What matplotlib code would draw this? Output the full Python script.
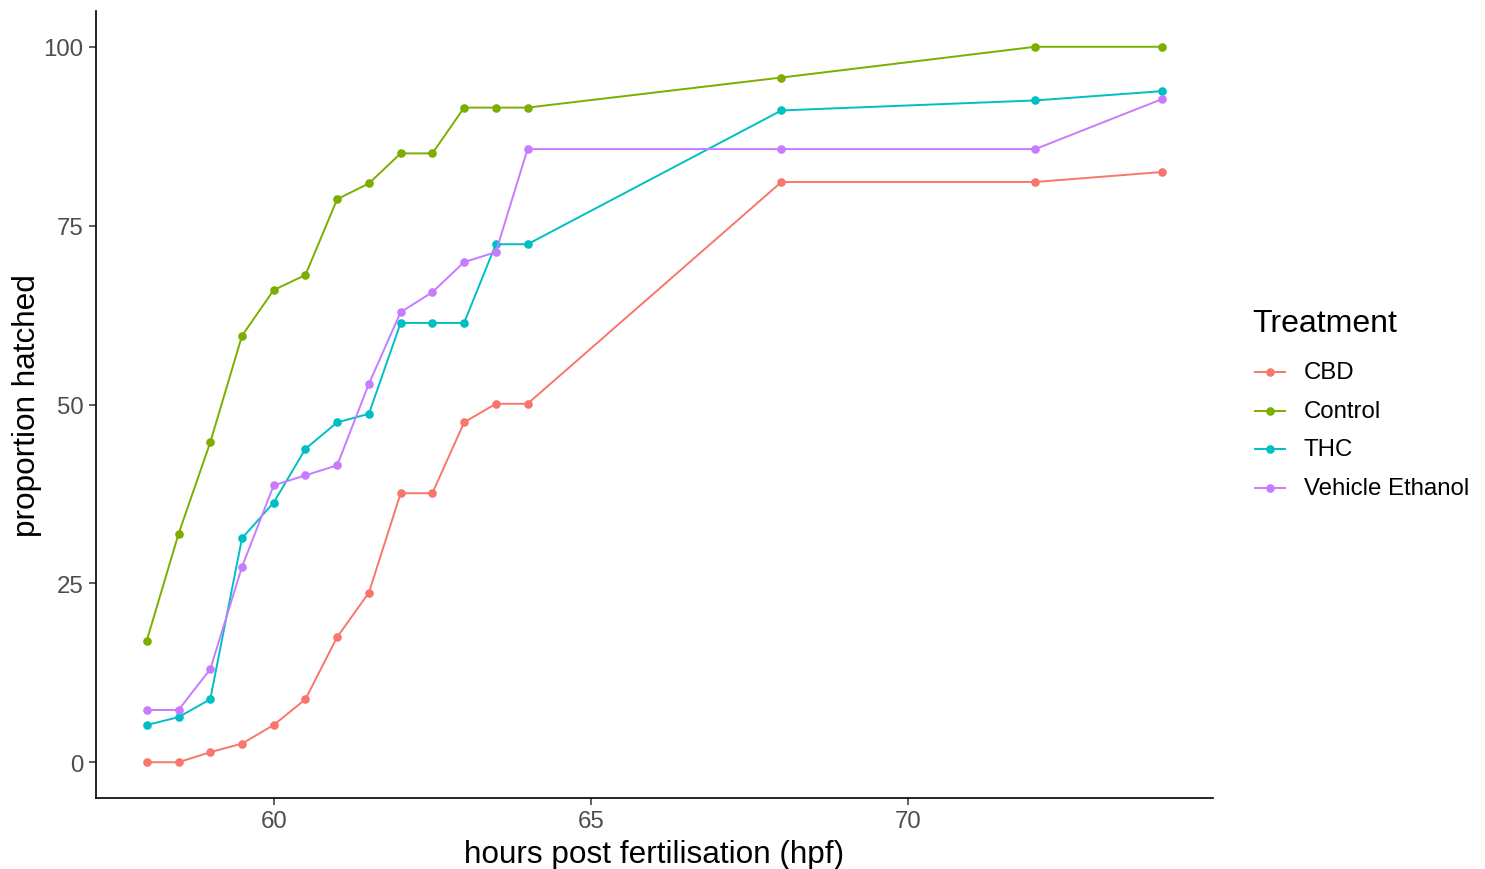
import matplotlib
matplotlib.use("Agg")
import matplotlib.pyplot as plt
from matplotlib.lines import Line2D

plt.rcParams['font.family'] = ['Liberation Sans', 'DejaVu Sans']

# hours post fertilisation at which hatching was scored
hours = [58, 58.5, 59, 59.5, 60, 60.5, 61, 61.5, 62, 62.5, 63, 63.5, 64, 68, 72, 74]

# percentage of embryos hatched per treatment
cbd = [0, 0, 1.4, 2.6, 5.2, 8.8, 17.5, 23.7, 37.6, 37.6, 47.5, 50.1, 50.1, 81.1, 81.1, 82.5]
control = [17.0, 31.9, 44.7, 59.6, 66.0, 68.1, 78.7, 80.9, 85.1, 85.1, 91.5, 91.5, 91.5, 95.7, 100, 100]
thc = [5.2, 6.3, 8.8, 31.3, 36.3, 43.8, 47.5, 48.7, 61.4, 61.4, 61.4, 72.4, 72.4, 91.1, 92.5, 93.8]
vehicle = [7.3, 7.3, 13.0, 27.3, 38.7, 40.1, 41.5, 52.9, 62.9, 65.7, 69.9, 71.3, 85.7, 85.7, 85.7, 92.7]

treatments = ["CBD", "Control", "THC", "Vehicle Ethanol"]
series = [cbd, control, thc, vehicle]
colors = ["#F8766D", "#7CAE00", "#00BFC4", "#C77CFF"]

x_ticks = [60, 65, 70]
y_ticks = [0, 25, 50, 75, 100]

W, H = 1485, 870
fig = plt.figure(figsize=(W / 100, H / 100), dpi=100)
ax = fig.add_axes([96 / W, 1 - 799 / H, (1213 - 96) / W, (799 - 12) / H])

for name, vals, col in zip(treatments, series, colors):
    ax.plot(hours, vals, color=col, lw=1.4, marker='o', markersize=6.2,
            markeredgewidth=0, label=name)

ax.set_xlim(57.2, 74.8)
ax.set_ylim(-5, 105)
ax.set_xticks(x_ticks)
ax.set_yticks(y_ticks)
ax.tick_params(axis='both', labelsize=17.3, colors='#333333', labelcolor='#4D4D4D',
               length=5, width=1.1, pad=4)
for side in ['top', 'right']:
    ax.spines[side].set_visible(False)
for side in ['left', 'bottom']:
    ax.spines[side].set_linewidth(1.2)
    ax.spines[side].set_color('black')

ax.set_xlabel("hours post fertilisation (hpf)", fontsize=22.7, color='black', labelpad=4.5)
ax.set_ylabel("proportion hatched", fontsize=22.7, color='black', labelpad=1)


def fx(px):
    return px / W


def fy(py):
    return 1 - py / H


# legend on the right, drawn in figure pixel coordinates
fig.text(fx(1252), fy(324), "Treatment", fontsize=23, color='black',
         ha='left', va='center')
for i, (name, col) in enumerate(zip(treatments, colors)):
    yy = fy(373 + i * 38.7)
    fig.add_artist(Line2D([fx(1255), fx(1285)], [yy, yy], color=col, lw=1.4,
                          transform=fig.transFigure))
    fig.add_artist(Line2D([fx(1270)], [yy], color=col, marker='o', markersize=6.2,
                          markeredgewidth=0, transform=fig.transFigure))
    fig.text(fx(1304), yy, name, fontsize=17.3, color='black', ha='left', va='center')

fig.savefig("out.png", dpi=100)
